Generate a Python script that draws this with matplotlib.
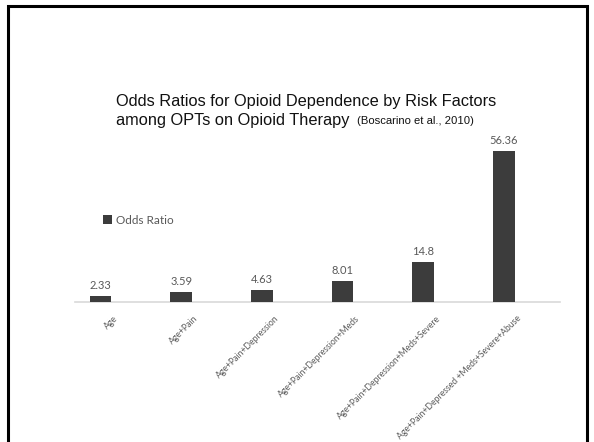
import matplotlib
matplotlib.use("Agg")
import matplotlib.pyplot as plt
from matplotlib.patches import Rectangle
from matplotlib.transforms import ScaledTranslation

categories = ["Age", "Age+Pain", "Age+Pain+Depression", "Age+Pain+Depression+Meds",
              "Age+Pain+Depression+Meds+Severe", "Age+Pain+Depressed +Meds+Severe+Abuse"]
odds_ratio = [2.33, 3.59, 4.63, 8.01, 14.8, 56.36]
value_labels = ["2.33", "3.59", "4.63", "8.01", "14.8", "56.36"]
series_name = "Odds Ratio"
title_line1 = "Odds Ratios for Opioid Dependence by Risk Factors"
title_line2 = "among OPTs on Opioid Therapy"
title_cite = "(Boscarino et al., 2010)"

W, H = 594, 442
dpi = 100
fig = plt.figure(figsize=(W / dpi, H / dpi), dpi=dpi)
fig.patch.set_facecolor("white")

def px(x0, y0, x1, y1):
    return [x0 / W, 1 - y1 / H, (x1 - x0) / W, (y1 - y0) / H]

ax = fig.add_axes(px(75, 141, 560, 302))
bar_color = "#3c3c3c"
grey = "#595959"
xs = list(range(len(categories)))
bars = ax.bar(xs, odds_ratio, width=0.27, color=bar_color, label=series_name, zorder=3)
ax.set_xlim(-0.316, 5.694)
ax.set_ylim(0, 60)
for s in ["top", "right", "left"]:
    ax.spines[s].set_visible(False)
ax.spines["bottom"].set_color("#d9d9d9")
ax.spines["bottom"].set_linewidth(1.2)
ax.set_yticks([])
ax.set_xticks(xs)
ax.set_xticklabels(categories, fontsize=6.2, color=grey, family="Lato")
ax.tick_params(axis="x", length=0, pad=0)
off = ScaledTranslation(15.5 / dpi, -15 / dpi, fig.dpi_scale_trans)
for lab in ax.get_xticklabels():
    lab.set_rotation(45)
    lab.set_ha("right")
    lab.set_va("center")
    lab.set_rotation_mode("anchor")
    lab.set_transform(lab.get_transform() + off)

for rect, txt in zip(bars, value_labels):
    ax.annotate(txt, (rect.get_x() + rect.get_width() / 2, rect.get_height()),
                xytext=(0, 5), textcoords="offset pixels", ha="center", va="bottom",
                fontsize=8, color=grey, family="Lato")

leg = ax.legend(loc="upper left", bbox_to_anchor=(103 / W, 1 - 215 / H),
                bbox_transform=fig.transFigure, frameon=False,
                prop={"family": "Lato", "size": 8.5}, handlelength=0.8, handleheight=0.8,
                handletextpad=0.3, borderpad=0, borderaxespad=0)
for t in leg.get_texts():
    t.set_color(grey)

fig.text(116 / W, 1 - 106 / H, title_line1, fontsize=11.75, family="Liberation Sans",
         color="#111111", ha="left", va="baseline")
fig.text(116 / W, 1 - 125 / H, title_line2, fontsize=11.75, family="Liberation Sans",
         color="#111111", ha="left", va="baseline")
fig.text(357 / W, 1 - 124 / H, title_cite, fontsize=8.1, family="Liberation Sans",
         color="#111111", ha="left", va="baseline")

fig.patches.append(Rectangle((8 / W, -0.05), (587 - 8) / W, 1.05 - 6 / H,
                             transform=fig.transFigure, fill=False,
                             edgecolor="black", linewidth=2.2))

fig.savefig("out.png", dpi=dpi, facecolor="white")
